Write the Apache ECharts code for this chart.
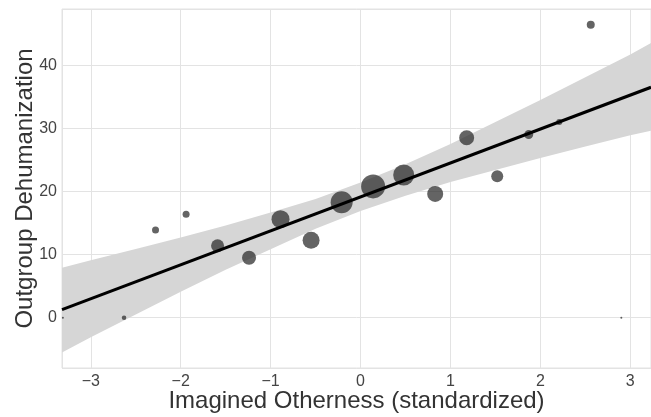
<!DOCTYPE html>
<html>
<head>
<meta charset="utf-8">
<script src="https://cdn.jsdelivr.net/npm/echarts@6/dist/echarts.min.js"></script>
<style>
  html, body { margin: 0; padding: 0; background: #fff; }
  #chart { width: 651px; height: 417px; }
</style>
</head>
<body>
<div id="chart"></div>
<script>
// points
const otherness = [-3.31, -2.63, -2.28, -1.94, -1.59, -1.24, -0.89, -0.55, -0.21, 0.14, 0.48, 0.83, 1.18, 1.52, 1.87, 2.21, 2.56, 2.90];
const dehuman   = [0, 0, 13.9, 16.4, 11.4, 9.5, 15.6, 12.25, 18.3, 20.8, 22.6, 19.6, 28.5, 22.4, 29.0, 31.0, 46.4, 0];
const dotSize   = [2, 4.5, 7, 7, 13, 14, 18, 17, 22, 24, 21, 16, 15, 12, 9, 6, 8, 2];

// fitted line and confidence band
const fitX = [-3.32, 3.23];
const fitY = [1.27, 36.5];
const bandX     = [-3.32, -3, -2.5, -2, -1.5, -1, -0.5, 0, 0.5, 1, 1.5, 2, 2.5, 3, 3.23];
const bandUpper = [7.9, 9.1, 10.9, 12.7, 14.6, 16.65, 18.8, 21.4, 24.3, 27.5, 31.0, 34.5, 38.1, 41.7, 43.5];
const bandLower = [-5.5, -3.1, 0.5, 4.1, 7.6, 10.85, 14.1, 16.9, 19.3, 21.5, 23.4, 25.3, 27.1, 28.9, 29.6];

const chart = echarts.init(document.getElementById('chart'));

const grayText = '#444';
const gridColor = '#e3e3e3';

const option = {
  animation: false,
  grid: {
    left: 62, right: 0, top: 9, bottom: 49,
    containLabel: false,
    outerBoundsMode: 'none',
    show: true, borderColor: gridColor, borderWidth: 1
  },
  xAxis: {
    type: 'value',
    min: -3.32, max: 3.23,
    splitNumber: 5,
    name: 'Imagined Otherness (standardized)',
    nameLocation: 'middle',
    nameMoveOverlap: false,
    nameGap: 21,
    nameTextStyle: { fontFamily: 'Liberation Sans', fontSize: 24, color: '#333' },
    axisLine: { show: false },
    axisTick: { show: false },
    axisLabel: {
      showMinLabel: false, showMaxLabel: false,
      fontFamily: 'Liberation Sans', fontSize: 16, color: grayText, margin: 6,
      formatter: v => (v < 0 ? '\u2212' + Math.abs(v) : String(v))
    },
    splitLine: { lineStyle: { color: gridColor, width: 1 } }
  },
  yAxis: {
    type: 'value',
    min: -7.97, max: 48.9,
    splitNumber: 5,
    name: 'Outgroup Dehumanization',
    nameLocation: 'middle',
    nameMoveOverlap: false,
    nameGap: 25,
    nameRotate: 90,
    nameTextStyle: { fontFamily: 'Liberation Sans', fontSize: 24, color: '#333' },
    axisLine: { show: false },
    axisTick: { show: false },
    axisLabel: {
      showMinLabel: false, showMaxLabel: false,
      fontFamily: 'Liberation Sans', fontSize: 16, color: grayText, margin: 5
    },
    splitLine: { lineStyle: { color: gridColor, width: 1 } }
  },
  series: [
    {
      type: 'custom',
      silent: true,
      z: 1,
      data: bandX.map((x, i) => [x, bandLower[i], bandUpper[i]]),
      renderItem: function (params, api) {
        if (params.dataIndex !== 0) return;
        const pts = [];
        for (let i = 0; i < bandX.length; i++) pts.push(api.coord([bandX[i], bandUpper[i]]));
        for (let i = bandX.length - 1; i >= 0; i--) pts.push(api.coord([bandX[i], bandLower[i]]));
        return {
          type: 'polygon',
          shape: { points: pts },
          style: { fill: '#d6d6d6' }
        };
      },
      clip: true
    },
    {
      type: 'scatter',
      z: 2,
      data: otherness.map((x, i) => [x, dehuman[i], dotSize[i]]),
      symbolSize: d => d[2],
      itemStyle: { color: 'rgba(40,40,40,0.9)' }
    },
    {
      type: 'line',
      z: 3,
      data: fitX.map((x, i) => [x, fitY[i]]),
      symbol: 'none',
      lineStyle: { color: '#000', width: 3 }
    }
  ]
};

chart.setOption(option);
</script>
</body>
</html>
